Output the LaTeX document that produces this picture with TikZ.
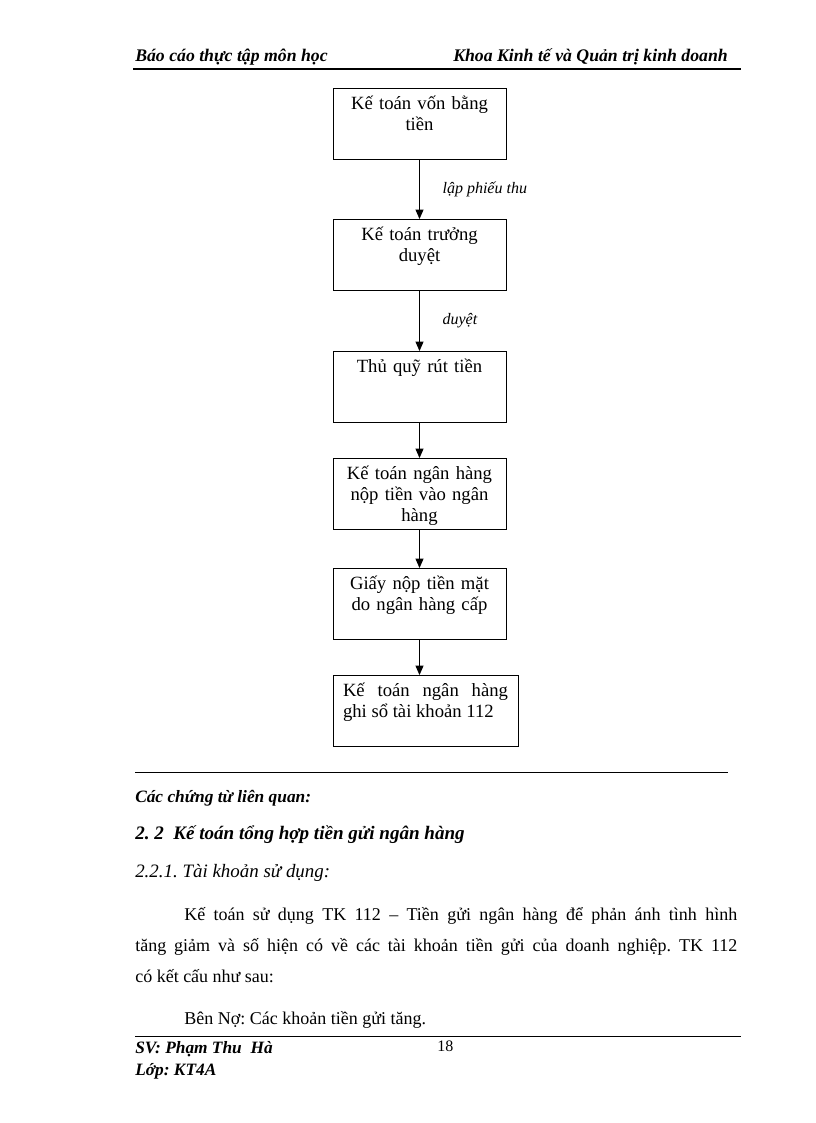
\documentclass[tikz,border=0pt]{standalone}
\usepackage{fontspec}
\setmainfont{Liberation Serif}
\usetikzlibrary{arrows.meta}
\frenchspacing

\begin{document}
\begin{tikzpicture}[x=0.75pt,y=-0.75pt,
  stepbox/.style={draw, line width=0.6pt, inner xsep=3pt, inner ysep=0pt,
    text width=123.75pt, align=center, font=\fontsize{14pt}{15.5pt}\selectfont,
    text height=16pt, text depth=37.25pt, anchor=north},
  flow/.style={line width=0.6pt, -{Triangle[width=6pt,length=7pt]}},
  flowlabel/.style={font=\fontsize{12pt}{14pt}\selectfont\itshape, inner sep=0pt},
  plain/.style={anchor=base west, inner sep=0pt, font=\fontsize{13.5pt}{15pt}\selectfont},
  heading/.style={plain, font=\fontsize{13.3pt}{15pt}\selectfont\bfseries\itshape}]
  \useasboundingbox (0,0) rectangle (816,1123);

  % header
  \node[heading] (hleft) at (135,62) {Báo cáo thực tập môn học};
  \node[heading, anchor=base east] (hright) at (728,62) {Khoa Kinh tế và Quản trị kinh doanh};
  \draw[line width=2pt] (133,69)--(741,69);

  % flow of the boxes
  \node[stepbox] (ktvon) at (419.5,88) {Kế toán vốn bằng\\ tiền};
  \node[stepbox] (kttruong) at (419.5,219) {Kế toán trưởng\\ duyệt};
  \node[stepbox] (thuquy) at (419.5,351) {Thủ quỹ rút tiền};
  \node[stepbox] (ktnh) at (419.5,458) {Kế toán ngân hàng\\ nộp tiền vào ngân\\ hàng};
  \node[stepbox] (giaynop) at (419.5,568) {Giấy nộp tiền mặt\\ do ngân hàng cấp};
  \node[stepbox, inner xsep=7.5pt, align=justify] (ghiso) at (425.5,675) {Kế toán ngân hàng\linebreak ghi sổ tài khoản 112};

  \draw[flow] (ktvon)--(kttruong) node[flowlabel, midway, right=17pt] {lập phiếu thu};
  \draw[flow] (kttruong)--(thuquy) node[flowlabel, midway, right=17pt] {duyệt};
  \draw[flow] (thuquy)--(ktnh);
  \draw[flow] (ktnh)--(giaynop);
  \draw[flow] (giaynop.south)--(giaynop.south |- ghiso.north);

  \draw[line width=0.6pt] (135,772)--(728,772);

  % text below
  \node[heading, font=\fontsize{13pt}{15pt}\selectfont\bfseries\itshape] (chungtu) at (135,802) {Các chứng từ liên quan:};
  \node[heading, font=\fontsize{14.3pt}{16pt}\selectfont\bfseries\itshape] (muc22) at (135,839) {2. 2\ \ Kế toán tổng hợp tiền gửi ngân hàng};
  \node[plain, font=\fontsize{14.2pt}{16pt}\selectfont\itshape] (muc221) at (135,877) {2.2.1. Tài khoản sử dụng:};
  \node[plain, text width=451.5pt, align=justify, font=\fontsize{13.5pt}{23.25pt}\selectfont] (doanvan) at (135,920)
    {\hspace*{36.75pt}Kế toán sử dụng TK 112 -- Tiền gửi ngân hàng để phản ánh tình hình\linebreak
     tăng giảm và số hiện có về các tài khoản tiền gửi của doanh nghiệp. TK 112\linebreak
     có kết cấu như sau:};
  \node[plain] (benno) at (184,1024) {Bên Nợ: Các khoản tiền gửi tăng.};

  % footer
  \draw[line width=0.6pt] (135,1036)--(741,1036);
  \node[heading, font=\fontsize{13pt}{15pt}\selectfont\bfseries\itshape] (sv) at (135,1053) {SV: Phạm Thu\ \ Hà};
  \node[heading, font=\fontsize{13pt}{15pt}\selectfont\bfseries\itshape] (lop) at (135,1075) {Lớp: KT4A};
  \node[plain, font=\fontsize{12pt}{14pt}\selectfont] (trang) at (437,1051) {18};
\end{tikzpicture}
\end{document}
